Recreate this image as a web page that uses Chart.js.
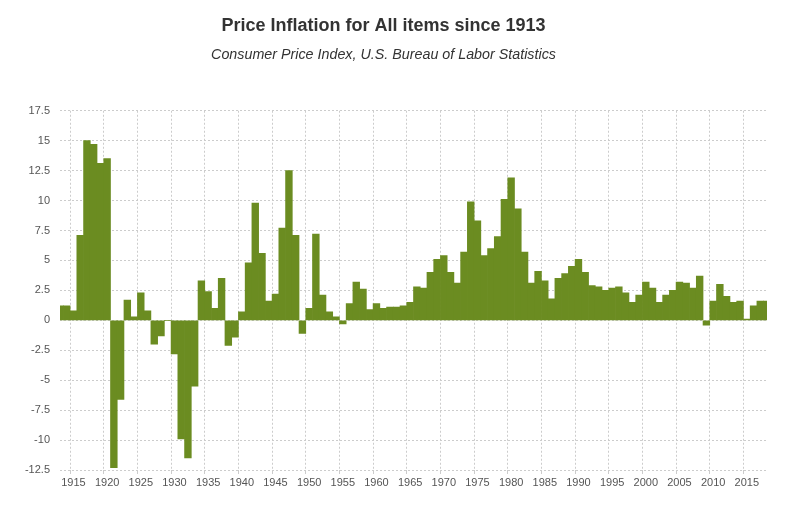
<!DOCTYPE html>
<html>
<head>
<meta charset="utf-8">
<script src="https://cdn.jsdelivr.net/npm/chart.js@4/dist/chart.umd.min.js"></script>
<style>
  html, body { margin: 0; padding: 0; background: #fff; }
</style>
</head>
<body>
<canvas id="c" width="809" height="506"></canvas>
<script>
// Years (categories)
const years = [];
for (let y = 1913; y <= 2018; y++) years.push(y);

// Annual inflation (%), 1913..2018
const inflation1910s = [1.2, 1.2, 0.8, 7.1, 15.0, 14.7, 13.1];               // 1913-1919
const inflation1920s = [13.5, -12.3, -6.6, 1.7, 0.3, 2.3, 0.8, -2.0, -1.3, 0.0];
const inflation1930s = [-2.8, -9.9, -11.5, -5.5, 3.3, 2.4, 1.0, 3.5, -2.1, -1.4];
const inflation1940s = [0.7, 4.8, 9.8, 5.6, 1.6, 2.2, 7.7, 12.5, 7.1, -1.1];
const inflation1950s = [1.0, 7.2, 2.1, 0.7, 0.3, -0.3, 1.4, 3.2, 2.6, 0.9];
const inflation1960s = [1.4, 1.0, 1.1, 1.1, 1.2, 1.5, 2.8, 2.7, 4.0, 5.1];
const inflation1970s = [5.4, 4.0, 3.1, 5.7, 9.9, 8.3, 5.4, 6.0, 7.0, 10.1];
const inflation1980s = [11.9, 9.3, 5.7, 3.1, 4.1, 3.3, 1.8, 3.5, 3.9, 4.5];
const inflation1990s = [5.1, 4.0, 2.9, 2.8, 2.5, 2.7, 2.8, 2.3, 1.5, 2.1];
const inflation2000s = [3.2, 2.7, 1.5, 2.1, 2.5, 3.2, 3.1, 2.7, 3.7, -0.4];
const inflation2010s = [1.6, 3.0, 2.0, 1.5, 1.6, 0.1, 1.2, 1.6, 1.6];         // 2010-2018

const inflation = [].concat(inflation1910s, inflation1920s, inflation1930s, inflation1940s,
  inflation1950s, inflation1960s, inflation1970s, inflation1980s, inflation1990s,
  inflation2000s, inflation2010s);

// Tick labels on the year axis
const xTickYears = [1915, 1920, 1925, 1930, 1935, 1940, 1945, 1950, 1955, 1960, 1965,
  1970, 1975, 1980, 1985, 1990, 1995, 2000, 2005, 2010, 2015];
const yTickValues = { min: -12.5, max: 17.5, step: 2.5 };

const FONT = "'Helvetica Neue', Helvetica, Arial, 'Liberation Sans', sans-serif";
Chart.defaults.font.family = FONT;
Chart.defaults.color = '#555';

const GRID = '#cccccc';
const setYearTicks = (scale) => {
  scale.ticks = xTickYears.map(v => ({ value: v }));
};

new Chart(document.getElementById('c'), {
  type: 'bar',
  data: {
    datasets: [{
      data: years.map((y, i) => ({ x: y, y: inflation[i] })),
      xAxisID: 'x',
      yAxisID: 'y',
      backgroundColor: '#6b8c21',
      borderWidth: 0,
      barPercentage: 1,
      categoryPercentage: 1,
      clip: 0
    }]
  },
  options: {
    responsive: false,
    animation: false,
    devicePixelRatio: 1,
    layout: { padding: { left: 0, right: 42, top: 0, bottom: 0 } },
    plugins: {
      legend: { display: false },
      tooltip: { enabled: false },
      title: {
        display: true,
        text: 'Price Inflation for All items since 1913',
        color: '#333',
        font: { size: 18, weight: 'bold', family: FONT },
        padding: { top: 15, bottom: 0 }
      },
      subtitle: {
        display: true,
        text: 'Consumer Price Index, U.S. Bureau of Labor Statistics',
        color: '#333',
        font: { size: 14.3, style: 'italic', family: FONT },
        padding: { top: 10, bottom: 47 }
      }
    },
    scales: {
      x: {
        type: 'linear',
        position: 'bottom',
        weight: 1,
        min: years[0],
        max: years[years.length - 1],
        offset: false,
        grid: { offset: false, drawOnChartArea: false, drawTicks: false, color: 'rgba(0,0,0,0)' },
        border: { display: false },
        afterBuildTicks: setYearTicks,
        ticks: {
          autoSkip: false,
          maxRotation: 0,
          minRotation: 0,
          padding: 6,
          font: { size: 11 },
          color: '#555',
          callback: (v) => String(v)
        },
        afterFit: (scale) => { scale.height = 36; }
      },
      xGrid: {
        type: 'linear',
        position: 'bottom',
        weight: 0,
        min: years[0] + 0.5,
        max: years[years.length - 1] + 0.5,
        offset: false,
        grid: { offset: false, color: GRID, drawTicks: true, tickLength: 4, lineWidth: 1 },
        border: { display: false, dash: [2, 2] },
        afterBuildTicks: setYearTicks,
        ticks: { display: false, autoSkip: false },
        afterFit: (scale) => { scale.height = 0; }
      },
      y: {
        min: yTickValues.min,
        max: yTickValues.max,
        grid: { color: GRID, drawTicks: false, lineWidth: 1 },
        border: { display: false, dash: [2, 2] },
        ticks: {
          stepSize: yTickValues.step,
          padding: 10,
          font: { size: 11 },
          color: '#555',
          callback: (v) => String(v)
        },
        afterFit: (scale) => { scale.width = 60; }
      }
    }
  }
});
</script>
</body>
</html>
